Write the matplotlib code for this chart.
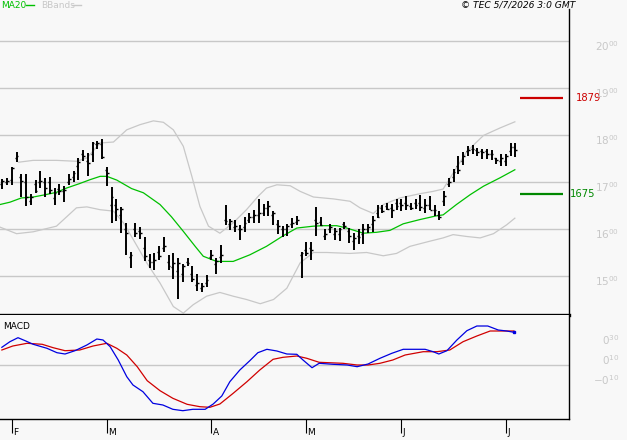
import numpy as np
import matplotlib
matplotlib.use("Agg")
import matplotlib.pyplot as plt
import matplotlib.transforms as mtransforms

# ---- OHLC bars ----
highs = [1706, 1709, 1731, 1764, 1717, 1717, 1675, 1704, 1724, 1709, 1710, 1687, 1695, 1692, 1718, 1724, 1750, 1769, 1762, 1785, 1787, 1791,
         1732, 1689, 1664, 1647, 1613, 1552, 1613, 1604, 1582, 1547, 1548, 1563, 1583, 1544, 1548, 1538, 1526, 1538, 1522, 1504, 1485, 1503,
         1556, 1538, 1565, 1652, 1622, 1620, 1609, 1626, 1633, 1640, 1664, 1653, 1659, 1638, 1620, 1606, 1611, 1623, 1627,
         1552, 1572, 1572, 1647, 1626, 1599, 1611, 1602, 1602, 1614, 1602, 1591, 1599, 1611, 1611, 1627,
         1650, 1652, 1655, 1654, 1664, 1664, 1671, 1655, 1664, 1673, 1664, 1671, 1650, 1638, 1680, 1709, 1728, 1755, 1763, 1776,
         1779, 1772, 1770, 1770, 1767, 1752, 1760, 1760, 1783, 1783]
lows = [1684, 1694, 1694, 1743, 1668, 1648, 1652, 1677, 1687, 1667, 1675, 1650, 1673, 1657, 1694, 1701, 1705, 1744, 1712, 1743, 1771, 1748,
        1691, 1613, 1616, 1591, 1544, 1516, 1584, 1579, 1531, 1517, 1513, 1533, 1552, 1513, 1494, 1452, 1487, 1521, 1487, 1467, 1466, 1476,
        1535, 1504, 1528, 1609, 1597, 1594, 1577, 1594, 1613, 1613, 1613, 1627, 1627, 1609, 1590, 1583, 1586, 1602, 1609,
        1496, 1542, 1533, 1586, 1607, 1576, 1591, 1577, 1574, 1600, 1570, 1556, 1567, 1567, 1591, 1593,
        1623, 1633, 1641, 1623, 1641, 1638, 1641, 1641, 1643, 1638, 1634, 1641, 1628, 1620, 1648, 1689, 1700, 1718, 1737, 1755,
        1760, 1755, 1749, 1749, 1746, 1738, 1735, 1733, 1755, 1753]
opens = [1695, 1700, 1705, 1750, 1710, 1700, 1660, 1695, 1700, 1700, 1700, 1665, 1685, 1680, 1700, 1710, 1735, 1760, 1745, 1760, 1780, 1780,
         1725, 1650, 1650, 1630, 1600, 1540, 1600, 1595, 1560, 1535, 1530, 1550, 1560, 1530, 1520, 1510, 1505, 1530, 1505, 1480, 1475, 1485,
         1540, 1525, 1540, 1620, 1610, 1605, 1600, 1605, 1620, 1625, 1630, 1635, 1645, 1630, 1610, 1600, 1600, 1610, 1615,
         1545, 1555, 1560, 1620, 1615, 1585, 1600, 1590, 1590, 1610, 1595, 1575, 1585, 1590, 1600, 1610,
         1635, 1645, 1648, 1645, 1655, 1655, 1655, 1648, 1655, 1655, 1645, 1650, 1640, 1630, 1660, 1695, 1710, 1735, 1745, 1765,
         1770, 1768, 1765, 1765, 1760, 1750, 1745, 1745, 1765, 1775]
closes = [1702, 1703, 1730, 1755, 1702, 1668, 1668, 1680, 1702, 1687, 1683, 1677, 1680, 1683, 1706, 1719, 1743, 1755, 1740, 1783, 1783, 1753,
          1719, 1668, 1642, 1642, 1592, 1545, 1592, 1592, 1542, 1530, 1535, 1542, 1563, 1521, 1528, 1528, 1521, 1528, 1493, 1486, 1479, 1491,
          1544, 1531, 1545, 1616, 1616, 1607, 1599, 1613, 1626, 1630, 1634, 1644, 1648, 1633, 1606, 1599, 1606, 1613, 1620,
          1548, 1548, 1555, 1613, 1609, 1590, 1604, 1595, 1600, 1606, 1585, 1580, 1582, 1600, 1605, 1619,
          1626, 1638, 1643, 1641, 1648, 1650, 1650, 1645, 1650, 1646, 1650, 1641, 1641, 1626, 1671, 1699, 1722, 1726, 1755, 1769,
          1771, 1764, 1763, 1759, 1759, 1747, 1750, 1755, 1774, 1769]

# ---- MA20 and Bollinger bands, sampled along the bar index ----
ma_x = [-0.5, 1.6, 4.0, 6.5, 9.1, 11.4, 13.5, 16.1, 18.5, 20.6, 22.0, 24.1, 27.2, 29.7, 33.2, 35.6, 38.1, 40.6, 42.3, 45.1,
        48.6, 52.1, 55.6, 59.2, 62.0, 65.5, 67.6, 70.4, 72.5, 76.0, 78.8, 81.6, 84.4, 87.9, 91.4, 92.8, 95.6, 98.5, 101.3, 104.8, 107.9]
ma_y = [1652, 1657, 1666, 1668, 1673, 1678, 1687, 1696, 1705, 1712, 1712, 1704, 1686, 1677, 1652, 1626, 1595, 1563, 1542, 1531,
        1531, 1545, 1563, 1586, 1602, 1606, 1607, 1607, 1602, 1591, 1593, 1597, 1611, 1620, 1628, 1630, 1652, 1673, 1691, 1709, 1726]
upper_x = [3.4, 6.5, 11.4, 15.6, 17.8, 20.6, 23.4, 26.2, 29.0, 31.8, 33.9, 36.0, 38.1, 39.9, 41.6, 43.4, 45.8, 48.6, 51.4, 53.9,
           55.6, 57.8, 60.6, 62.7, 65.5, 69.7, 73.2, 75.3, 78.1, 80.2, 83.7, 87.9, 90.7, 92.8, 95.6, 97.8, 101.3, 104.8, 107.9]
upper_y = [1742, 1746, 1746, 1744, 1751, 1783, 1785, 1811, 1822, 1830, 1827, 1811, 1776, 1712, 1648, 1606, 1591, 1613, 1641, 1670,
           1687, 1694, 1692, 1680, 1668, 1664, 1659, 1645, 1633, 1652, 1666, 1675, 1680, 1685, 1730, 1765, 1799, 1815, 1828]
lower_x = [-0.5, 3.0, 6.5, 11.4, 15.6, 17.8, 20.6, 23.4, 25.5, 27.6, 30.4, 33.2, 36.0, 38.1, 40.2, 43.0, 45.8, 48.6, 51.4, 54.3,
           57.1, 59.9, 62.7, 65.5, 68.3, 73.2, 76.7, 80.2, 83.0, 85.8, 90.0, 92.8, 94.9, 97.8, 100.6, 103.4, 106.2, 107.9]
lower_y = [1604, 1590, 1594, 1606, 1645, 1647, 1641, 1638, 1613, 1577, 1528, 1485, 1435, 1421, 1439, 1457, 1465, 1457, 1450, 1441,
           1450, 1474, 1528, 1550, 1550, 1548, 1550, 1543, 1548, 1563, 1574, 1581, 1588, 1584, 1581, 1590, 1609, 1623]

# ---- MACD panel ----
macd_x = [-0.1, 1.6, 3.3, 4.8, 6.5, 9.4, 11.5, 13.2, 15.3, 17.8, 19.9, 21.2, 22.7, 24.4, 26.2, 27.5, 29.6, 31.7, 33.8, 35.9,
          38.0, 40.1, 42.7, 44.4, 46.2, 47.9, 50.0, 52.1, 53.8, 55.7, 57.8, 59.9, 62.0, 63.3, 65.2, 66.7, 69.6, 72.6, 74.7, 77.0,
          79.5, 82.0, 84.4, 89.0, 90.7, 91.9, 93.6, 95.7, 97.8, 99.9, 102.2, 104.4, 106.2, 107.7]
macd_y = [0.177, 0.233, 0.273, 0.243, 0.207, 0.167, 0.123, 0.11, 0.143, 0.20, 0.26, 0.25, 0.183, 0.05, -0.117, -0.20, -0.267, -0.383, -0.40, -0.443,
          -0.457, -0.443, -0.443, -0.39, -0.31, -0.167, -0.05, 0.043, 0.123, 0.157, 0.14, 0.11, 0.107, 0.05, -0.027, 0.017, 0.007, 0.0, -0.017, 0.01,
          0.067, 0.117, 0.157, 0.157, 0.133, 0.11, 0.143, 0.25, 0.343, 0.39, 0.39, 0.35, 0.34, 0.327]
signal_x = [-0.1, 2.2, 5.2, 8.4, 10.7, 13.2, 16.3, 19.1, 22.0, 24.1, 26.2, 28.4, 30.5, 33.2, 35.9, 38.9, 41.6, 43.7, 45.8, 48.6,
            51.5, 54.2, 57.0, 59.1, 62.0, 64.1, 66.7, 71.7, 74.7, 77.0, 79.5, 82.2, 84.8, 88.6, 91.5, 94.2, 97.0, 99.9, 102.7, 107.7]
signal_y = [0.15, 0.19, 0.217, 0.207, 0.173, 0.143, 0.15, 0.19, 0.217, 0.167, 0.10, -0.017, -0.157, -0.257, -0.333, -0.393, -0.417, -0.423, -0.39, -0.283,
            -0.167, -0.05, 0.057, 0.077, 0.09, 0.067, 0.027, 0.017, 0.0, 0.0, 0.017, 0.05, 0.10, 0.133, 0.133, 0.15, 0.233, 0.29, 0.34, 0.34]

month_pos = [2, 22, 44, 64, 84, 106]
month_labels = ["F", "M", "A", "M", "J", "J"]
price_ticks = [1500, 1600, 1700, 1800, 1900, 2000]
macd_ticks = [0.30, 0.10, -0.10]
resist_level = 1879
support_level = 1675

BG = "#f8f8f8"
GRID = "#c8c8c8"
W, H = 627, 440

plt.rcParams["font.family"] = ["DejaVu Sans"]
fig = plt.figure(figsize=(W / 100, H / 100), dpi=100, facecolor=BG)


def frac(x0, y0, x1, y1):
    return [x0 / W, 1 - y1 / H, (x1 - x0) / W, (y1 - y0) / H]


ax = fig.add_axes(frac(0, 9, 569, 315), facecolor=BG)
axm = fig.add_axes(frac(0, 315, 569, 419), facecolor=BG)

xmin, xmax = -0.49, 119.3
for a in (ax, axm):
    a.set_xlim(xmin, xmax)
    a.spines["left"].set_visible(False)
    a.spines["top"].set_visible(False)
    a.spines["right"].set_linewidth(1.0)
    a.set_yticks([])
ax.set_ylim(1417, 2068)
axm.set_ylim(-0.54, 0.50)
ax.spines["bottom"].set_linewidth(2.4)
axm.spines["bottom"].set_linewidth(1.0)
axm.spines["top"].set_visible(False)

# gridlines
for p in price_ticks:
    ax.axhline(p, color=GRID, lw=1.0, zorder=0)
axm.axhline(0, color=GRID, lw=1.0, zorder=0)

# bands and moving average
ax.plot(upper_x, upper_y, color=GRID, lw=0.9, zorder=1)
ax.plot(lower_x, lower_y, color=GRID, lw=0.9, zorder=1)
ax.plot(ma_x, ma_y, color="#00c000", lw=0.9, zorder=2)

# OHLC bars
idx = np.arange(len(highs))
ax.vlines(idx, lows, highs, color="black", lw=1.4, zorder=3)
ax.hlines(opens, idx - 0.4, idx, color="black", lw=1.0, zorder=3)
ax.hlines(closes, idx, idx + 0.4, color="black", lw=1.0, zorder=3)

# support / resistance markers
ax.hlines(resist_level, 109.0, 118.0, color="#cc0000", lw=1.6, clip_on=False)
ax.hlines(support_level, 109.0, 118.0, color="#008800", lw=1.6, clip_on=False)
offs = mtransforms.offset_copy(ax.transData, fig=fig, x=0, y=0, units="dots")
ax.text(120.7, resist_level, str(resist_level), color="#cc0000", fontsize=7.2,
        va="center", ha="left", clip_on=False)
ax.text(119.5, support_level, str(support_level), color="#008800", fontsize=7.2,
        va="center", ha="left", clip_on=False)

# right-hand price labels, slightly below gridlines
lab_tr = mtransforms.offset_copy(
    mtransforms.blended_transform_factory(fig.transFigure, ax.transData),
    fig=fig, x=0, y=-5, units="dots")
for p in price_ticks:
    s = str(p)
    ax.text(619 / W, p, r"$\mathregular{%s^{%s}}$" % (s[:2], s[2:]), transform=lab_tr,
            color=GRID, fontsize=7.5, ha="right", va="center", clip_on=False)

mlab_tr = mtransforms.offset_copy(
    mtransforms.blended_transform_factory(fig.transFigure, axm.transData),
    fig=fig, x=0, y=-5, units="dots")
for v in macd_ticks:
    head = "-0" if v < 0 else "0"
    tail = "%02d" % round(abs(v) * 100)
    axm.text(619 / W, v, r"$\mathregular{%s^{%s}}$" % (head, tail), transform=mlab_tr,
             color=GRID, fontsize=7.5, ha="right", va="center", clip_on=False)

# MACD lines
axm.plot(signal_x, signal_y, color="#d00000", lw=0.9)
axm.plot(macd_x, macd_y, color="#0000e0", lw=0.9)
axm.plot(macd_x[-1], macd_y[-1], "s", color="#0000e0", ms=2)
axm.text(3 / W * 0 + 0.005, 0.93, "MACD", transform=axm.transAxes, fontsize=6.5,
         va="top", ha="left")

# month ticks
axm.set_xticks(month_pos)
axm.tick_params(axis="x", direction="out", length=10, width=0.8, labelbottom=False)
for m, lab in zip(month_pos, month_labels):
    axm.text(m + 0.25, -0.72, lab, fontsize=6.5, ha="left", va="bottom", clip_on=False)
ax.set_xticks([])

# header legend and stamp
fig.text(1 / W, 1 - 5 / H, "MA20", color="#00c000", fontsize=6.5, va="center", ha="left")
fig.add_artist(plt.Line2D([26 / W, 34 / W], [1 - 5 / H] * 2, color="#00c000", lw=1.0))
fig.text(41 / W, 1 - 5 / H, "BBands", color=GRID, fontsize=6.5, va="center", ha="left")
fig.add_artist(plt.Line2D([72 / W, 81 / W], [1 - 5 / H] * 2, color=GRID, lw=1.0))
fig.text(575 / W, 1 - 4.5 / H, "\u00a9 TEC 5/7/2026 3:0 GMT", fontsize=6.6, style="italic",
         va="center", ha="right")

fig.savefig("out.png", dpi=100, facecolor=BG)
